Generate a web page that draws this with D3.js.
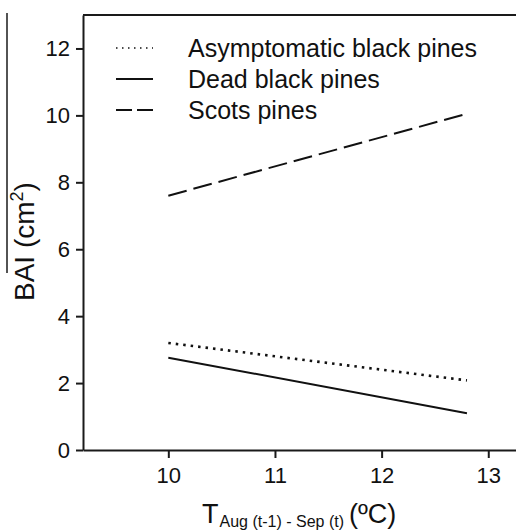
<!DOCTYPE html>
<html>
<head>
<meta charset="utf-8">
<script src="https://cdn.jsdelivr.net/npm/d3@7"></script>
<style>
  html, body { margin: 0; padding: 0; background: #fff; }
  svg { display: block; font-family: "Liberation Sans", Arial, sans-serif; }
</style>
</head>
<body>
<div class="chart"></div>
<script>
// values
const temps = [10, 12.8];
const asymptomatic = [3.2, 2.08];
const dead = [2.76, 1.1];
const scots = [7.6, 10.05];
const xTicks = [10, 11, 12, 13];
const yTicks = [0, 2, 4, 6, 8, 10, 12];
const seriesNames = ["Asymptomatic black pines", "Dead black pines", "Scots pines"];

const width = 516, height = 531;
const margin = { top: 15, right: 0, bottom: 81, left: 83 };

const x = d3.scaleLinear().domain([9.2, 13.26]).range([margin.left, width - margin.right]);
const y = d3.scaleLinear().domain([0, 13]).range([height - margin.bottom, margin.top]);

const svg = d3.select(".chart").append("svg")
    .attr("width", width)
    .attr("height", height);

const ink = "#1a1a1a";

// axes
const yAxis = d3.axisLeft(y).tickValues(yTicks).tickFormat(d3.format("d"))
    .tickSize(7).tickSizeOuter(0).tickPadding(6);
const xAxis = d3.axisBottom(x).tickValues(xTicks).tickFormat(d3.format("d"))
    .tickSize(8).tickSizeOuter(0).tickPadding(9);

const gy = svg.append("g").attr("transform", "translate(" + margin.left + ",0)").call(yAxis);
const gx = svg.append("g").attr("transform", "translate(0," + y(0) + ")").call(xAxis);

[gx, gy].forEach(g => {
    g.select(".domain").attr("stroke", ink).attr("stroke-width", 2);
    g.selectAll(".tick line").attr("stroke", ink).attr("stroke-width", 2);
    g.selectAll(".tick text").attr("fill", "#111").style("font-size", "22px")
        .style("font-family", "'Liberation Sans', Arial, sans-serif");
});

// top frame line
svg.append("line")
    .attr("x1", x.range()[0]).attr("x2", x.range()[1])
    .attr("y1", y(13)).attr("y2", y(13))
    .attr("stroke", ink).attr("stroke-width", 2);

// fitted lines
const series = [
    { values: asymptomatic, dash: "2.5,5", width: 2.6 },
    { values: dead, dash: null, width: 2 },
    { values: scots, dash: "19,7", width: 2 }
];

const line = d3.line().x(d => x(d[0])).y(d => y(d[1]));

series.forEach(s => {
    svg.append("path")
        .datum(temps.map((t, i) => [t, s.values[i]]))
        .attr("d", line)
        .attr("fill", "none")
        .attr("stroke", "#111")
        .attr("stroke-width", s.width)
        .attr("stroke-dasharray", s.dash);
});

// legend
const legendDash = ["1.5,4.5", null, "16,5"];
const legendWidth = [1.4, 2, 2];
const legend = svg.append("g");
seriesNames.forEach((name, i) => {
    const ly = 48 + i * 31;
    legend.append("line")
        .attr("x1", 116).attr("x2", 153)
        .attr("y1", ly).attr("y2", ly)
        .attr("stroke", "#111")
        .attr("stroke-width", legendWidth[i])
        .attr("stroke-dasharray", legendDash[i]);
    legend.append("text")
        .attr("x", 188).attr("y", ly + 9)
        .attr("fill", "#111")
        .style("font-size", "25px")
        .text(name);
});

// y label with bar over BAI
svg.append("text")
    .attr("transform", "translate(34,301) rotate(-90)")
    .attr("fill", "#111")
    .style("font-size", "28px")
    .call(t => {
        t.append("tspan").text("BAI (cm");
        t.append("tspan").attr("dy", -11).style("font-size", "18px").text("2");
        t.append("tspan").attr("dy", 11).text(")");
    });
svg.append("line")
    .attr("x1", 7).attr("x2", 7)
    .attr("y1", 13).attr("y2", 273)
    .attr("stroke", ink).attr("stroke-width", 1.5);

// x label
svg.append("text")
    .attr("x", 202).attr("y", 523)
    .attr("fill", "#111")
    .style("font-size", "27px")
    .call(t => {
        t.append("tspan").text("T");
        t.append("tspan").attr("dy", 4).attr("dx", 1).style("font-size", "16px").text("Aug (t-1) - Sep (t)");
        t.append("tspan").attr("dy", -4).attr("dx", 5).text("(ºC)");
    });
</script>
</body>
</html>
